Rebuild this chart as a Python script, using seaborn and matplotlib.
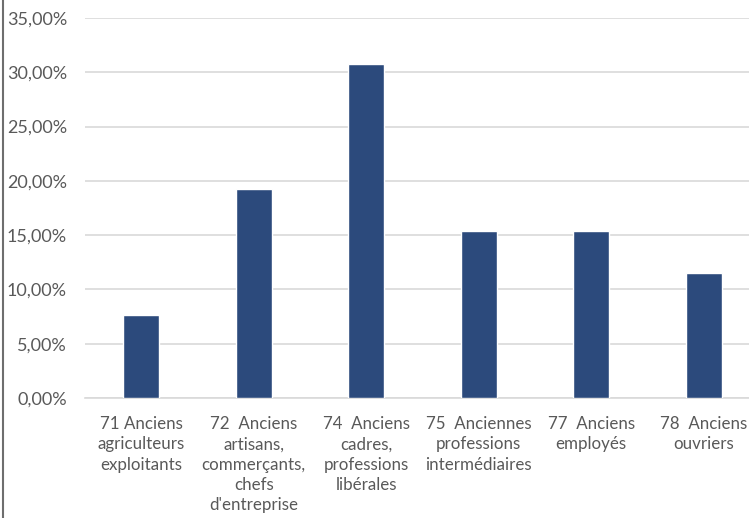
import matplotlib
matplotlib.use("Agg")
import matplotlib.pyplot as plt
from matplotlib.lines import Line2D
from matplotlib.ticker import FuncFormatter
import seaborn as sns
import pandas as pd

categories = [
    "71 Anciens\nagriculteurs\nexploitants",
    "72  Anciens\nartisans,\ncommerçants,\nchefs\nd'entreprise",
    "74  Anciens\ncadres,\nprofessions\nlibérales",
    "75  Anciennes\nprofessions\nintermédiaires",
    "77  Anciens\nemployés",
    "78  Anciens\nouvriers",
]
shares = [7.69, 19.23, 30.77, 15.38, 15.38, 11.54]
y_ticks = [0, 5, 10, 15, 20, 25, 30, 35]

df = pd.DataFrame({"categorie": categories, "part": shares})

sns.set_theme(style="white")
plt.rcParams["font.family"] = ["Lato", "DejaVu Sans"]

W, H = 749, 518
fig = plt.figure(figsize=(W / 100, H / 100), dpi=100)
ax = fig.add_axes([85 / W, 1 - 398 / H, (760 - 85) / W, (398 - 18) / H])

sns.barplot(data=df, x="categorie", y="part", color="#2C4A7C", width=0.32,
            saturation=1, ax=ax, zorder=3)

ax.set_ylim(0, 35)
ax.set_xlim(-0.5, len(categories) - 0.5)
ax.set_yticks(y_ticks)
ax.yaxis.set_major_formatter(FuncFormatter(lambda v, _: f"{v:.2f}%".replace(".", ",")))
ax.grid(axis="y", color="#D9D9D9", linewidth=1.2, zorder=0)
ax.set_axisbelow(True)
for side in ["top", "right", "left"]:
    ax.spines[side].set_visible(False)
ax.spines["bottom"].set_color("#D9D9D9")
ax.spines["bottom"].set_linewidth(1.2)
ax.set_xlabel("")
ax.set_ylabel("")
ax.tick_params(axis="y", length=0, pad=13, labelsize=13, labelcolor="#595959")
ax.tick_params(axis="x", length=0, pad=13, labelsize=12.2, labelcolor="#595959")
for lbl in ax.get_xticklabels():
    lbl.set_linespacing(1.33)
    lbl.set_horizontalalignment("center")

# frame line on the left edge
fig.add_artist(Line2D([2.5 / W, 2.5 / W], [0, 1], color="#6E6E6E", linewidth=1.5))

fig.savefig("out.png", dpi=100, facecolor="white")
